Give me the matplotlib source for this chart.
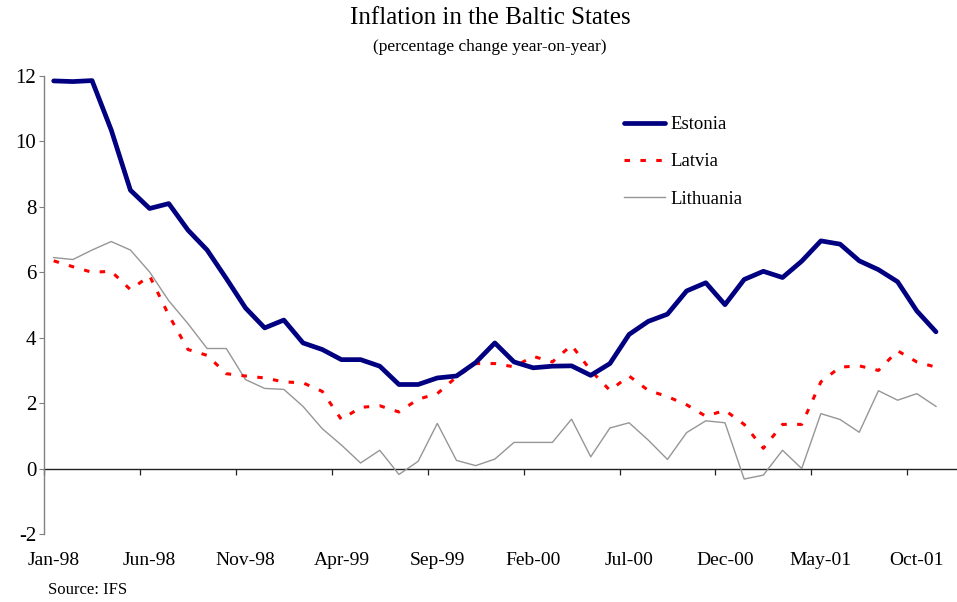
import numpy as np
import matplotlib
matplotlib.use("Agg")
import matplotlib.pyplot as plt

# monthly, Jan-98 .. Nov-01
months = list(range(47))
tick_labels = ["Jan-98", "Jun-98", "Nov-98", "Apr-99", "Sep-99",
               "Feb-00", "Jul-00", "Dec-00", "May-01", "Oct-01"]

estonia = [11.85, 11.83, 11.86, 10.35, 8.51, 7.95, 8.10, 7.29, 6.68, 5.81,
           4.91, 4.30, 4.54, 3.84, 3.64, 3.33, 3.33, 3.13, 2.57, 2.57,
           2.77, 2.83, 3.24, 3.84, 3.26, 3.08, 3.13, 3.14, 2.85, 3.21,
           4.10, 4.50, 4.72, 5.43, 5.68, 5.01, 5.78, 6.03, 5.84, 6.34,
           6.96, 6.86, 6.35, 6.08, 5.71, 4.82, 4.18]
latvia = [6.35, 6.17, 6.00, 6.03, 5.47, 5.89, 4.69, 3.64, 3.46, 2.90,
          2.83, 2.77, 2.65, 2.62, 2.36, 1.50, 1.87, 1.92, 1.73, 2.12,
          2.29, 2.80, 3.21, 3.21, 3.11, 3.43, 3.26, 3.77, 3.00, 2.39,
          2.83, 2.39, 2.20, 1.95, 1.60, 1.78, 1.35, 0.62, 1.35, 1.35,
          2.65, 3.10, 3.14, 3.00, 3.60, 3.26, 3.10]
lithuania = [6.45, 6.39, 6.68, 6.94, 6.68, 6.01, 5.13, 4.43, 3.67, 3.67,
             2.72, 2.45, 2.42, 1.90, 1.22, 0.72, 0.17, 0.56, -0.18, 0.22,
             1.38, 0.25, 0.09, 0.29, 0.80, 0.80, 0.80, 1.51, 0.36, 1.24,
             1.40, 0.87, 0.28, 1.10, 1.46, 1.40, -0.32, -0.20, 0.56, 0.00,
             1.68, 1.50, 1.11, 2.38, 2.09, 2.29, 1.90]

plt.rcParams['font.family'] = ['Liberation Serif', 'DejaVu Serif']
plt.rcParams['axes.unicode_minus'] = False

W, H = 957, 602
fig = plt.figure(figsize=(W / 100, H / 100), dpi=100)
left, right, top, bottom = 44.1, 957, 76, 534
ax = fig.add_axes([left / W, 1 - bottom / H, (right - left) / W, (bottom - top) / H])

ax.plot(months, lithuania, color='#969696', lw=1.0, label='Lithuania', zorder=2)
ax.plot(months, latvia, color='#ff0000', lw=2.2, dashes=(1.8, 3.4), label='Latvia', zorder=3)
ax.plot(months, estonia, color='#000080', lw=3.4, label='Estonia', zorder=4,
        solid_capstyle='round', solid_joinstyle='round')

ymin, ymax = -2, 12
ax.set_ylim(ymin, ymax)
ax.set_xlim(-0.5, -0.5 + (right - left) / 19.18)
ax.set_yticks(range(-2, 13, 2))
ax.tick_params(axis='y', length=3.6, width=0.8, color='#808080', pad=2, labelsize=15)

ax.spines['top'].set_visible(False)
ax.spines['right'].set_visible(False)
ax.spines['bottom'].set_visible(False)
ax.spines['left'].set_color('#808080')
ax.spines['left'].set_linewidth(1.0)

# category labels at the bottom
ax.set_xticks(months[::5], tick_labels)
ax.tick_params(axis='x', length=0, pad=13, labelsize=14)

# zero axis with ticks between categories
zero = ax.secondary_xaxis((0 - ymin) / (ymax - ymin))
zero.set_xticks(np.arange(-0.5, 47, 5))
zero.tick_params(axis='x', direction='out', length=4.5, width=0.9, color='#222222', labelbottom=False)
zero.spines['bottom'].set_color('#222222')
zero.spines['bottom'].set_linewidth(1.0)

handles, labels = ax.get_legend_handles_labels()
order = [2, 1, 0]
ax.legend([handles[i] for i in order], [labels[i] for i in order],
          loc='upper left', bbox_to_anchor=(624 / W, 1 - 116 / H), bbox_transform=fig.transFigure,
          frameon=False, fontsize=13.5, handlelength=2.2, handletextpad=0.3,
          labelspacing=1.08, borderpad=0, borderaxespad=0)

fig.text(490 / W, 1 - 18 / H, "Inflation in the Baltic States", ha='center', va='center', fontsize=18)
fig.text(490 / W, 1 - 47 / H, "(percentage change year-on-year)", ha='center', va='center', fontsize=12.5)
fig.text(48 / W, 1 - 590 / H, "Source: IFS", ha='left', va='center', fontsize=12)

fig.savefig("out.png", dpi=100)
